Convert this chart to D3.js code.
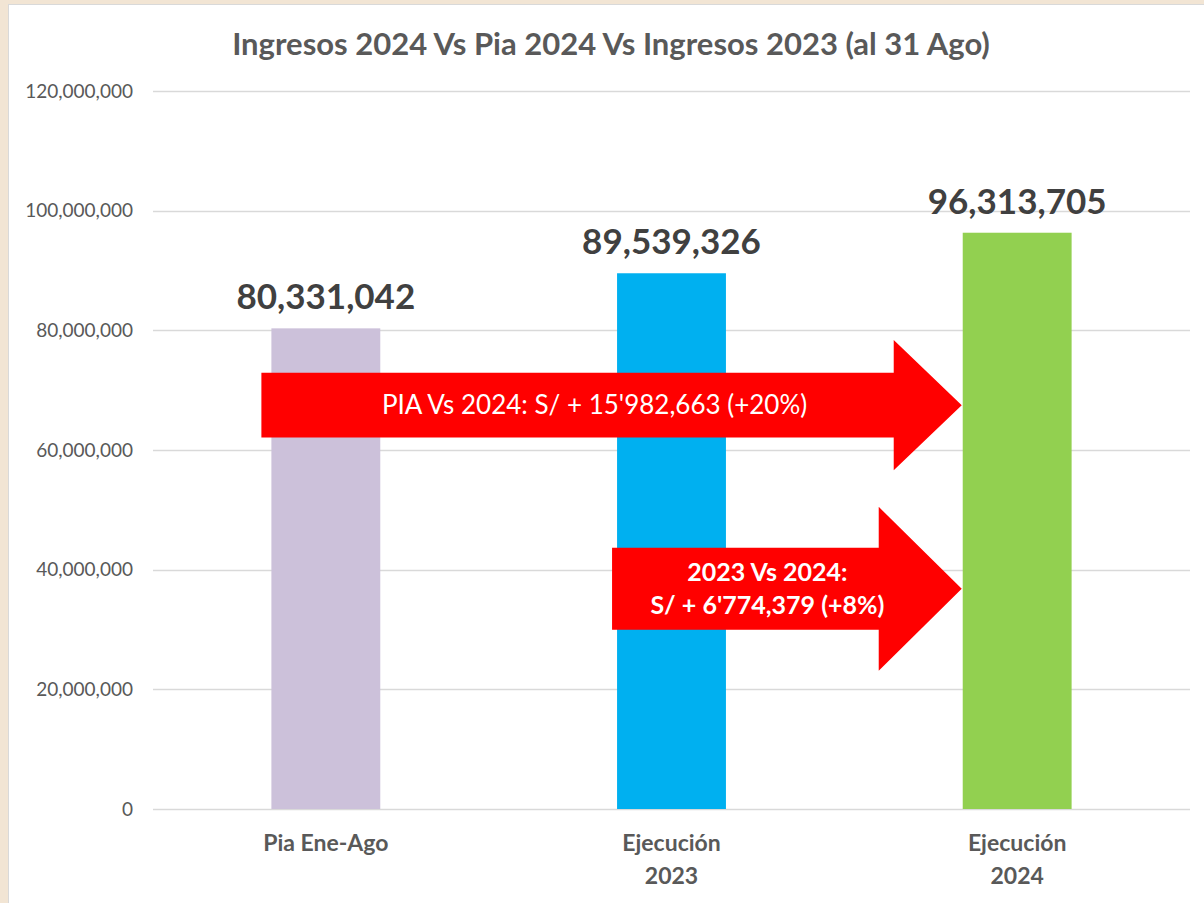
<!DOCTYPE html>
<html>
<head>
<meta charset="utf-8">
<script src="https://cdn.jsdelivr.net/npm/d3@7"></script>
<style>
  body { margin: 0; background: #f2e5d4; }
  svg { display: block; font-family: Lato, "Open Sans", sans-serif; }
</style>
</head>
<body>
<div id="chart"></div>
<script>
const categories = ["Pia Ene-Ago", "Ejecución 2023", "Ejecución 2024"];
const labelLines = [["Pia Ene-Ago"], ["Ejecución", "2023"], ["Ejecución", "2024"]];
const values = [80331042, 89539326, 96313705];
const barColors = ["#ccc1da", "#00b0f0", "#92d050"];
const yTicks = [0, 20000000, 40000000, 60000000, 80000000, 100000000, 120000000];
const title = "Ingresos 2024 Vs Pia 2024 Vs Ingresos 2023 (al 31 Ago)";

// arrow annotations: from bar (start) to bar (end), at a value level
const arrowFrom = ["Pia Ene-Ago", "Ejecución 2023"];
const arrowTo = ["Ejecución 2024", "Ejecución 2024"];
const arrowLevel = [67500000, 36800000];
const arrowText = [["PIA Vs 2024: S/ + 15'982,663 (+20%)"], ["2023 Vs 2024:", "S/ + 6'774,379 (+8%)"]];

const W = 1204, H = 903;
const margin = { top: 91, right: 14, bottom: 94, left: 153 };
const width = W - margin.left - margin.right;
const height = H - margin.top - margin.bottom;

const svg = d3.select("#chart").append("svg")
    .attr("width", W)
    .attr("height", H);

// white panel
svg.append("rect")
    .attr("x", 8.5)
    .attr("y", 4.5)
    .attr("width", W)
    .attr("height", H)
    .attr("fill", "#fff")
    .attr("stroke", "#d9d9d9");

svg.append("text")
    .attr("x", 611)
    .attr("y", 55)
    .attr("text-anchor", "middle")
    .attr("font-size", "31px")
    .attr("font-weight", "bold")
    .attr("fill", "#595959")
    .text(title);

const g = svg.append("g")
    .attr("transform", `translate(${margin.left},${margin.top})`);

const xScale = d3.scaleBand()
    .domain(categories)
    .range([0, width])
    .paddingInner(0.685)
    .paddingOuter(0.3425);

const yScale = d3.scaleLinear()
    .domain([0, 120000000])
    .range([height, 0]);

g.selectAll(".gridLine")
    .data(yTicks)
    .enter().append("line")
    .attr("class", "gridLine")
    .attr("x1", 0)
    .attr("x2", width)
    .attr("y1", d => Math.round(yScale(d)) + 0.5)
    .attr("y2", d => Math.round(yScale(d)) + 0.5)
    .attr("stroke", "#d9d9d9")
    .attr("stroke-width", 1.3);

g.selectAll(".yLabel")
    .data(yTicks)
    .enter().append("text")
    .attr("class", "yLabel")
    .attr("x", -20)
    .attr("y", d => yScale(d))
    .attr("dy", "0.35em")
    .attr("text-anchor", "end")
    .attr("font-size", "19px")
    .attr("fill", "#595959")
    .text(d => d3.format(",")(d));

g.selectAll(".bar")
    .data(values)
    .enter().append("rect")
    .attr("class", "bar")
    .attr("x", (d, i) => xScale(categories[i]))
    .attr("y", d => yScale(d))
    .attr("width", xScale.bandwidth())
    .attr("height", d => height - yScale(d))
    .attr("fill", (d, i) => barColors[i]);

g.selectAll(".valueLabel")
    .data(values)
    .enter().append("text")
    .attr("class", "valueLabel")
    .attr("x", (d, i) => xScale(categories[i]) + xScale.bandwidth() / 2)
    .attr("y", d => yScale(d) - 19)
    .attr("text-anchor", "middle")
    .attr("font-size", "35px")
    .attr("font-weight", "bold")
    .attr("fill", "#404040")
    .text(d => d3.format(",")(d));

const xLabels = g.selectAll(".xLabel")
    .data(labelLines)
    .enter().append("text")
    .attr("class", "xLabel")
    .attr("x", (d, i) => xScale(categories[i]) + xScale.bandwidth() / 2)
    .attr("y", height + 42)
    .attr("text-anchor", "middle")
    .attr("font-size", "23px")
    .attr("font-weight", "bold")
    .attr("fill", "#595959");

xLabels.selectAll("tspan")
    .data(d => d)
    .enter().append("tspan")
    .attr("x", function () { return d3.select(this.parentNode).attr("x"); })
    .attr("dy", (d, i) => i === 0 ? 0 : 33)
    .text(d => d);

// arrows
const pxPerUnit = height / 120000000;
const arrowShaft = [5400000, 6850000];
const arrowHead = [10900000, 13700000];
const arrowInset = [-10, -5];
const arrowHeadLen = [68, 83];
const arrowTextShift = [17, 22];
const arrowFont = [["26px", "normal"], ["25px", "bold"]];

arrowLevel.forEach((lvl, i) => {
    const x0 = xScale(arrowFrom[i]) + arrowInset[i];
    const tip = xScale(arrowTo[i]) - 1;
    const base = tip - arrowHeadLen[i];
    const yc = yScale(lvl);
    const s = arrowShaft[i] * pxPerUnit;
    const h = arrowHead[i] * pxPerUnit;
    const pts = [
        [x0, yc - s], [base, yc - s], [base, yc - h], [tip, yc],
        [base, yc + h], [base, yc + s], [x0, yc + s]
    ];
    g.append("path")
        .attr("class", "arrow")
        .attr("d", d3.line()(pts) + "Z")
        .attr("fill", "#ff0000");

    const lines = arrowText[i];
    const cx = (x0 + base) / 2 + arrowTextShift[i];
    const lh = 33;
    g.append("text")
        .attr("class", "arrowText")
        .attr("x", cx)
        .attr("y", yc - (lines.length - 1) * lh / 2)
        .attr("text-anchor", "middle")
        .attr("font-size", arrowFont[i][0])
        .attr("font-weight", arrowFont[i][1])
        .attr("fill", "#fff")
        .selectAll("tspan")
        .data(lines)
        .enter().append("tspan")
        .attr("x", cx)
        .attr("dy", (d, j) => j === 0 ? "0.35em" : lh)
        .text(d => d);
});
</script>
</body>
</html>
